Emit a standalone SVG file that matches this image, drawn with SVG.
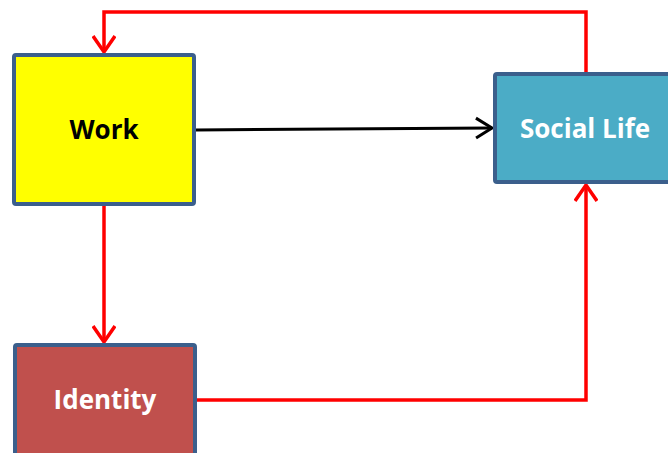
<svg xmlns="http://www.w3.org/2000/svg" width="668" height="453" viewBox="0 0 668 453">
  <style>
    .box { stroke: #3B5F8C; stroke-width: 4; }
    .label { font-family: "Open Sans", "Liberation Sans", sans-serif; font-weight: bold; font-size: 26px; text-anchor: middle; }
    .red { fill: none; stroke: #FF0000; stroke-width: 3.5; }
    .black { fill: none; stroke: #000000; stroke-width: 3; }
  </style>
  <defs>
    <marker id="arrowRed" viewBox="0 0 24 24" refX="20" refY="12" markerWidth="24" markerHeight="24" markerUnits="userSpaceOnUse" orient="auto">
      <path d="M4,1 L20,12 L4,23" fill="none" stroke="#FF0000" stroke-width="3.5"/>
    </marker>
    <marker id="arrowBlack" viewBox="0 0 24 24" refX="20" refY="12" markerWidth="24" markerHeight="24" markerUnits="userSpaceOnUse" orient="auto">
      <path d="M4,2 L20,12 L4,22" fill="none" stroke="#000000" stroke-width="3"/>
    </marker>
  </defs>

  <g id="connectors">
    <polyline class="red" points="586,73 586,12 104,12 104,52" marker-end="url(#arrowRed)"/>
    <line class="black" x1="196" y1="130" x2="492" y2="128" marker-end="url(#arrowBlack)"/>
    <line class="red" x1="104" y1="206" x2="104" y2="342" marker-end="url(#arrowRed)"/>
    <polyline class="red" points="197,400 586,400 586,185" marker-end="url(#arrowRed)"/>
  </g>

  <g id="work">
    <rect class="box" x="14" y="55" width="180" height="149" rx="2" fill="#FFFF00"/>
    <text class="label" x="104" y="139" fill="#000000">Work</text>
  </g>

  <g id="social-life">
    <rect class="box" x="495" y="74" width="180" height="108" rx="2" fill="#4BACC6"/>
    <text class="label" x="585" y="138" fill="#FFFFFF">Social Life</text>
  </g>

  <g id="identity">
    <rect class="box" x="15" y="345" width="180" height="120" rx="2" fill="#C0504D"/>
    <text class="label" x="105" y="409" fill="#FFFFFF">Identity</text>
  </g>
</svg>
